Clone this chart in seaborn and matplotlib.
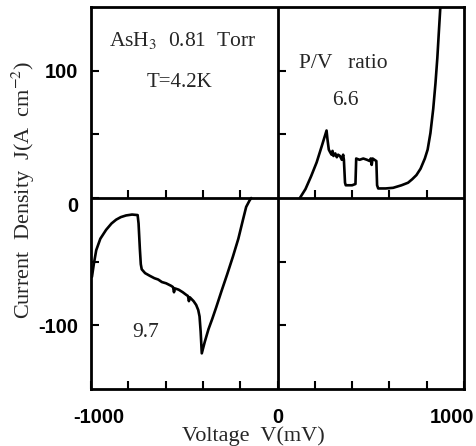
import matplotlib
matplotlib.use("Agg")
import matplotlib.pyplot as plt
import matplotlib.transforms as mtransforms
from matplotlib.markers import TICKUP, TICKRIGHT
import pandas as pd
import seaborn as sns

# forward bias branch, V in mV, J in A/cm2
v_pos = [120, 150, 180, 210, 240, 263, 268, 275, 282, 290, 295, 300, 310, 318, 325,
         335, 345, 352, 356, 362, 366, 400, 418, 422, 440, 460, 480, 495, 500, 505,
         510, 520, 530, 534, 540, 580, 620, 665, 700, 722, 745, 767, 790, 805, 820,
         835, 847, 857, 865, 874]
j_pos = [0, 7, 17, 28, 42, 53, 46, 38, 36, 34, 37, 33, 35, 32, 34,
         33, 30, 34, 30, 12, 10, 10, 11, 31, 30, 31, 30, 29, 31, 26,
         31, 30, 29, 10, 7.5, 7.5, 8, 10, 12, 14.7, 18, 23, 31, 38, 51,
         70, 90, 110, 130, 152]

# reverse bias branch
v_neg = [-995, -985, -972, -950, -919, -890, -865, -840, -812, -780, -750, -745,
         -738, -733, -728, -710, -686, -660, -640, -620, -597, -570, -560, -555,
         -550, -530, -508, -490, -480, -475, -470, -450, -436, -425, -418, -412,
         -406, -390, -370, -350, -329, -300, -270, -239, -210, -185, -168, -150, -141]
j_neg = [-62, -52, -41, -32, -25, -20, -17, -15, -13.7, -13, -13.4, -20,
         -40, -52, -56, -59, -61, -63, -64, -66, -67, -69, -70, -74,
         -71, -72, -74, -76, -77, -81, -78, -81, -84, -88, -93, -105,
         -122, -113, -103, -95, -86, -73, -60, -46, -32, -17, -7, -2, 0]

x_ticks = [-1000, -800, -600, -400, -200, 0, 200, 400, 600, 800, 1000]
x_labels = ["-1000", "", "", "", "", "0", "", "", "", "", "1000"]
y_ticks = [-100, -50, 0, 50, 100]
y_labels = ["-100", "", "0", "", "100"]
inner_x = [-800, -600, -400, -200, 200, 400, 600, 800]
inner_y = [-100, -50, 50, 100]

sns.set_style("ticks")
plt.rcParams["font.family"] = ["Liberation Serif", "DejaVu Serif"]
plt.rcParams["mathtext.fontset"] = "stix"

df_pos = pd.DataFrame({"V": v_pos, "J": j_pos})
df_neg = pd.DataFrame({"V": v_neg, "J": j_neg})

fig = plt.figure(figsize=(4.76, 4.46), dpi=100)
ax = fig.add_axes([91 / 476, 1 - 389 / 446, 373 / 476, 382 / 446])

sns.lineplot(data=df_pos, x="V", y="J", sort=False, estimator=None,
             color="black", lw=1.9, ax=ax)
sns.lineplot(data=df_neg, x="V", y="J", sort=False, estimator=None,
             color="black", lw=1.9, ax=ax)

ax.axhline(0, color="black", lw=2)
ax.axvline(0, color="black", lw=2)
ax.plot(inner_x, [0] * len(inner_x), ls="none", marker=TICKUP, ms=6, mew=1.5, color="black")
ax.plot([0] * len(inner_y), inner_y, ls="none", marker=TICKRIGHT, ms=6, mew=1.5, color="black")

ax.set_xlim(-1000, 1000)
ax.set_ylim(-150, 150)
ax.set_xticks(x_ticks)
ax.set_xticklabels(x_labels, fontfamily="Liberation Sans", fontweight="bold", fontsize=14.5)
ax.set_yticks(y_ticks)
ax.set_yticklabels(y_labels, fontfamily="Liberation Sans", fontweight="bold", fontsize=14.5)
ax.tick_params(axis="both", direction="in", length=6, width=1.5, colors="black")
ax.tick_params(axis="x", pad=14)
ax.tick_params(axis="y", pad=9)
for s in ax.spines.values():
    s.set_linewidth(2)
    s.set_color("black")

# nudge a few tick labels like in the scan
xl = ax.get_xticklabels()
xl[0].set_transform(xl[0].get_transform() + mtransforms.ScaledTranslation(0.08, 0, fig.dpi_scale_trans))
xl[-1].set_transform(xl[-1].get_transform() + mtransforms.ScaledTranslation(-0.12, 0, fig.dpi_scale_trans))
yl = ax.get_yticklabels()
yl[2].set_transform(yl[2].get_transform() + mtransforms.ScaledTranslation(0, -0.07, fig.dpi_scale_trans))

ax.set_xlabel("")
ax.set_ylabel("Current  Density  J(A  cm$^{-2}$)", fontsize=16)
ax.yaxis.set_label_coords(-0.145, 0.521)
fig.text(253 / 476, 1 - 441 / 446, "Voltage  V(mV)", fontsize=16, ha="center", va="baseline")

ax.text(-901, 119, "AsH$_3$  0.81  Torr", fontsize=15.5)
ax.text(-702, 87, "T=4.2K", fontsize=15)
ax.text(113, 102, "P/V   ratio", fontsize=15.5)
ax.text(295, 73, "6.6", fontsize=15.5)
ax.text(-777, -109, "9.7", fontsize=15.5)

fig.savefig("out.png", dpi=100)
